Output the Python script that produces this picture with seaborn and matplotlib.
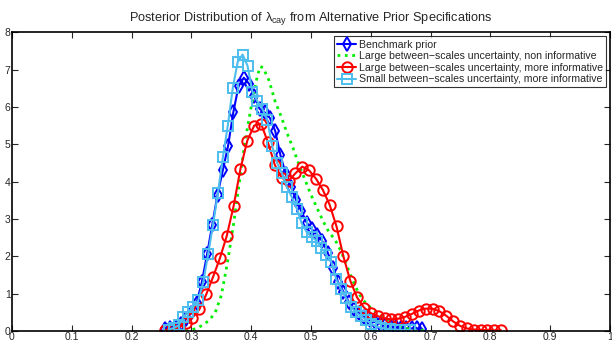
import numpy as np
import matplotlib
matplotlib.use("Agg")
import matplotlib.pyplot as plt
import seaborn as sns

# Benchmark prior (blue diamonds), 50 grid points
bench_x = np.linspace(0.256, 0.686, 50)
bench_y = [0.05, 0.08, 0.12, 0.20, 0.32, 0.48, 0.75, 1.30, 2.05, 2.85,
           3.65, 4.30, 4.95, 5.85, 6.55, 6.78, 6.62, 6.28, 5.95, 5.85,
           5.70, 5.35, 4.70, 4.20, 3.85, 3.50, 3.20, 2.90, 2.72, 2.58,
           2.40, 2.10, 1.70, 1.30, 1.05, 0.78, 0.60, 0.47, 0.37, 0.29,
           0.24, 0.20, 0.16, 0.12, 0.10, 0.08, 0.07, 0.07, 0.07, 0.06]

# Large between-scales uncertainty, non informative (green dotted)
large_ni_x = [0.29, 0.30, 0.31, 0.32, 0.33, 0.34, 0.35, 0.36, 0.37, 0.38,
              0.39, 0.40, 0.41, 0.415, 0.42, 0.43, 0.44, 0.45, 0.46, 0.47,
              0.48, 0.49, 0.50, 0.51, 0.52, 0.53, 0.54, 0.55, 0.56, 0.57,
              0.58, 0.59, 0.60, 0.61, 0.62, 0.63, 0.64, 0.65, 0.66, 0.67,
              0.68, 0.69]
large_ni_y = [0.00, 0.03, 0.08, 0.17, 0.29, 0.50, 0.95, 1.80, 2.80, 3.95,
              5.10, 6.00, 6.80, 7.08, 7.05, 6.70, 6.15, 5.75, 5.30, 4.90,
              4.45, 4.05, 3.65, 3.30, 2.95, 2.65, 2.45, 2.15, 1.75, 1.35,
              1.00, 0.78, 0.62, 0.50, 0.38, 0.27, 0.18, 0.11, 0.07, 0.04,
              0.03, 0.02]

# Large between-scales uncertainty, more informative (red circles)
large_mi_x = np.linspace(0.256, 0.818, 50)
large_mi_y = [0.03, 0.04, 0.10, 0.22, 0.36, 0.58, 0.98, 1.45, 1.95, 2.55,
              3.35, 4.35, 5.10, 5.50, 5.55, 5.05, 4.45, 4.10, 4.02, 4.22,
              4.40, 4.30, 4.08, 3.78, 3.38, 2.80, 2.00, 1.35, 0.90, 0.63,
              0.48, 0.40, 0.34, 0.31, 0.33, 0.38, 0.46, 0.55, 0.60, 0.60,
              0.53, 0.41, 0.26, 0.14, 0.07, 0.04, 0.03, 0.02, 0.02, 0.02]

# Small between-scales uncertainty, more informative (light blue squares)
small_mi_x = np.linspace(0.262, 0.666, 50)
small_mi_y = [0.04, 0.08, 0.15, 0.38, 0.52, 0.65, 0.82, 1.30, 2.05, 2.85,
              3.70, 4.65, 5.50, 6.50, 7.20, 7.40, 7.10, 6.40, 6.15, 5.95,
              5.65, 4.95, 4.50, 4.22, 3.85, 3.58, 3.28, 2.88, 2.65, 2.52,
              2.42, 2.22, 2.03, 1.85, 1.38, 1.12, 0.88, 0.64, 0.50, 0.40,
              0.30, 0.20, 0.13, 0.09, 0.06, 0.05, 0.04, 0.03, 0.03, 0.03]

labels = ["Benchmark prior",
          "Large between\u2212scales uncertainty, non informative",
          "Large between\u2212scales uncertainty, more informative",
          "Small between\u2212scales uncertainty, more informative"]

sns.set_style("white")
plt.rcParams['font.family'] = ['Liberation Sans', 'DejaVu Sans']
plt.rcParams['mathtext.fontset'] = 'custom'
plt.rcParams['mathtext.rm'] = 'Liberation Sans'
plt.rcParams['mathtext.it'] = 'Liberation Sans'

fig = plt.figure(figsize=(6.12, 3.42), dpi=100)
ax = fig.add_axes([0.0196, 0.032, 0.977, 0.874])

sns.lineplot(x=bench_x, y=bench_y, ax=ax, color='#0000ff', marker='d',
             markersize=7.5, markerfacecolor='none', markeredgecolor='#0000ff',
             markeredgewidth=1.4, linewidth=1.5, label=labels[0])
sns.lineplot(x=large_ni_x, y=large_ni_y, ax=ax, color='#00ee00',
             linestyle=':', linewidth=2, label=labels[1])
sns.lineplot(x=large_mi_x, y=large_mi_y, ax=ax, color='#ff0000', marker='o',
             markersize=7.5, markerfacecolor='none', markeredgecolor='#ff0000',
             markeredgewidth=1.4, linewidth=1.5, label=labels[2])
sns.lineplot(x=small_mi_x, y=small_mi_y, ax=ax, color='#4dbeee', marker='s',
             markersize=6.5, markerfacecolor='none', markeredgecolor='#4dbeee',
             markeredgewidth=1.4, linewidth=1.5, label=labels[3])

ax.set_xlim(0, 1)
ax.set_ylim(0, 8)
ax.set_xticks(np.arange(0, 1.01, 0.1))
ax.set_xticklabels(["0", "0.1", "0.2", "0.3", "0.4", "0.5", "0.6", "0.7", "0.8", "0.9", "1"])
ax.set_yticks(range(0, 9))
ax.tick_params(direction='in', length=4, width=0.8, labelsize=7.5, pad=1,
               top=True, right=True, bottom=True, left=True)
for s in ax.spines.values():
    s.set_visible(True)
    s.set_color('black')
    s.set_linewidth(1.2)

ax.set_title(r"Posterior Distribution of $\lambda_{cay}$ from Alternative Prior Specifications",
             fontsize=9.2, pad=8)

leg = ax.legend(loc='upper right', fontsize=7.6, frameon=True, fancybox=False,
                edgecolor='black', borderaxespad=0.4, handlelength=1.8,
                handletextpad=0.2, labelspacing=0.15, borderpad=0.3)
leg.get_frame().set_linewidth(0.8)

fig.savefig("out.png", dpi=100)
